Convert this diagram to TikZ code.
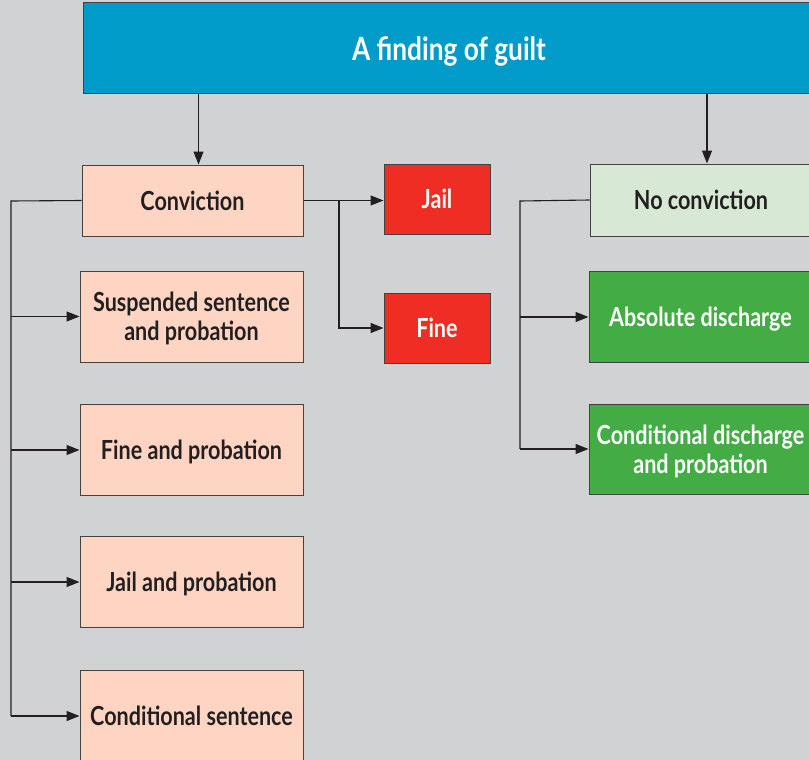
\documentclass[tikz,border=0pt]{standalone}
\usepackage{fontspec}
\setmainfont{Lato}[FakeStretch=0.82]
\usepackage{tikz}
\usetikzlibrary{arrows.meta}
\definecolor{bg-grey}{HTML}{D1D2D4}
\definecolor{guilt-blue}{HTML}{009BC9}
\definecolor{conv-peach}{HTML}{FDD5C2}
\definecolor{jail-red}{HTML}{EE2E24}
\definecolor{noconv-green}{HTML}{D7E8D4}
\definecolor{dis-green}{HTML}{44AC44}
\definecolor{ink}{HTML}{231F20}

\tikzset{
    box/.style={draw=ink!85, line width=1pt, align=center, inner sep=0pt, text depth=0pt,
        font=\fontsize{26.3}{29}\selectfont\bfseries, text=ink},
    peachbox/.style={box, fill=conv-peach, minimum width=223, minimum height=91},
    redbox/.style={box, fill=jail-red, text=white, minimum width=106, minimum height=70},
    greenbox/.style={box, fill=dis-green, text=white, minimum width=223, minimum height=91},
    link/.style={draw=ink, line width=1.1pt},
    arr/.style={link, -{Triangle[length=13pt, width=10pt]}},
}

\begin{document}
\begin{tikzpicture}[x=1pt, y=-1pt]
    \clip (0, 0) rectangle (809, 760);
    \fill[bg-grey] (0, 0) rectangle (809, 760);

    \node[box, fill=guilt-blue, text=white, minimum width=732, minimum height=91,
        font=\fontsize{32}{34}\selectfont\bfseries] (guilt) at (449, 48.5) {A finding of guilt};

    % conviction side
    \node[peachbox, minimum width=221, minimum height=71] (conv) at (192.5, 200.5) {Conviction};
    \node[redbox] (jail) at (437, 199) {Jail};
    \node[redbox] (fine) at (437, 328) {Fine};
    \node[peachbox] (susp) at (191.5, 316.5) {Suspended sentence\\and probation};
    \node[peachbox] (fineprob) at (191.5, 450) {Fine and probation};
    \node[peachbox] (jailprob) at (191.5, 582) {Jail and probation};
    \node[peachbox] (condsent) at (191.5, 716) {Conditional sentence};

    % no conviction side
    \node[box, fill=noconv-green, minimum width=222, minimum height=72] (noconv) at (701, 200) {No conviction};
    \node[greenbox] (absdis) at (700.5, 317) {Absolute discharge};
    \node[greenbox, minimum height=90] (conddis) at (700.5, 449) {Conditional discharge\\and probation};

    \draw[arr] ([xshift=6]guilt.south -| conv.north) -- ([xshift=6]conv.north);
    \draw[arr] ([xshift=6]guilt.south -| noconv.north) -- ([xshift=6]noconv.north);

    \coordinate (lbus) at (11, 201);
    \draw[link] (conv.west) -- (lbus) -- (lbus |- condsent.west);
    \draw[arr] (lbus |- susp.west) -- (susp.west);
    \draw[arr] (lbus |- fineprob.west) -- (fineprob.west);
    \draw[arr] (lbus |- jailprob.west) -- (jailprob.west);
    \draw[arr] (lbus |- condsent.west) -- (condsent.west);

    \coordinate (rbus) at (339, 201);
    \draw[arr] (conv.east) -- (conv.east -| jail.west);
    \draw[arr] (rbus) |- (fine.west);

    \coordinate (nbus) at (520, 201);
    \draw[link] (noconv.west) -- (nbus) -- (nbus |- conddis.west);
    \draw[arr] (nbus |- absdis.west) -- (absdis.west);
    \draw[arr] (nbus |- conddis.west) -- (conddis.west);
\end{tikzpicture}
\end{document}
